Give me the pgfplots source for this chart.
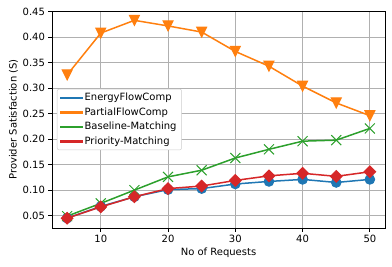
\documentclass[border=0pt]{standalone}
\usepackage{pgfplots}
\pgfplotsset{compat=1.18}
\usepackage{fontspec}
\setmainfont{DejaVu Sans}
\definecolor{tabblue}{RGB}{31,119,180}
\definecolor{taborange}{RGB}{255,127,14}
\definecolor{tabgreen}{RGB}{44,160,44}
\definecolor{tabred}{RGB}{214,39,40}
\definecolor{gridgray}{RGB}{176,176,176}
\definecolor{legedge}{RGB}{204,204,204}
\pgfdeclareplotmark{mtri}{%
  \pgfpathmoveto{\pgfqpoint{0pt}{-\pgfplotmarksize}}%
  \pgfpathlineto{\pgfqpoint{-\pgfplotmarksize}{\pgfplotmarksize}}%
  \pgfpathlineto{\pgfqpoint{\pgfplotmarksize}{\pgfplotmarksize}}%
  \pgfpathclose\pgfusepathqfillstroke}
\pgfdeclareplotmark{mdiam}{%
  \pgfpathmoveto{\pgfqpoint{0pt}{\pgfplotmarksize}}%
  \pgfpathlineto{\pgfqpoint{\pgfplotmarksize}{0pt}}%
  \pgfpathlineto{\pgfqpoint{0pt}{-\pgfplotmarksize}}%
  \pgfpathlineto{\pgfqpoint{-\pgfplotmarksize}{0pt}}%
  \pgfpathclose\pgfusepathqfillstroke}
\pgfdeclareplotmark{mx}{%
  \pgfpathmoveto{\pgfqpoint{-\pgfplotmarksize}{-\pgfplotmarksize}}%
  \pgfpathlineto{\pgfqpoint{\pgfplotmarksize}{\pgfplotmarksize}}%
  \pgfpathmoveto{\pgfqpoint{-\pgfplotmarksize}{\pgfplotmarksize}}%
  \pgfpathlineto{\pgfqpoint{\pgfplotmarksize}{-\pgfplotmarksize}}%
  \pgfusepathqstroke}
\begin{document}
\begin{tikzpicture}
\begin{axis}[
  scale only axis,
  width=333pt, height=217pt,
  xmin=2.75, xmax=52.25,
  ymin=0.0257, ymax=0.4513,
  xtick={10,20,30,40,50},
  ytick={0.05,0.10,0.15,0.20,0.25,0.30,0.35,0.40,0.45},
  yticklabel style={/pgf/number format/.cd, fixed, fixed zerofill, precision=2},
  /pgf/number format/assume math mode=true,
  tick label style={font=\fontsize{10}{12}\selectfont},
  label style={font=\fontsize{10}{12}\selectfont},
  tick align=outside,
  major tick length=3.5pt,
  tick style={black, line width=0.8pt},
  xtick pos=bottom, ytick pos=left,
  axis line style={line width=0.8pt},
  grid=major,
  major grid style={gridgray, line width=0.8pt},
  xlabel={No of Requests},
  ylabel={Provider Satisfaction (S)},
  xlabel style={yshift=2pt},
  ylabel style={yshift=-2pt},
  legend style={at={(0.015,0.5)}, anchor=west, draw=legedge, fill=white, rounded corners=2pt,
    font=\fontsize{10}{12}\selectfont, inner xsep=3pt, inner ysep=2pt, row sep=1.5pt},
  legend cell align=left,
]
\addplot[forget plot, tabblue, line width=1.5pt, mark=*, mark size=4.8pt, mark options={line width=1pt}] coordinates {
(5,0.045) (10,0.068) (15,0.087) (20,0.101) (25,0.103) (30,0.112) (35,0.117) (40,0.121) (45,0.115) (50,0.121)};
\addplot[forget plot, taborange, line width=1.5pt, mark=mtri, mark size=5pt, mark options={line width=1pt}] coordinates {
(5,0.326) (10,0.408) (15,0.433) (20,0.422) (25,0.410) (30,0.372) (35,0.343) (40,0.304) (45,0.271) (50,0.246)};
\addplot[forget plot, tabgreen, line width=1.5pt, mark=mx, mark size=5pt, mark options={line width=1pt}] coordinates {
(5,0.049) (10,0.074) (15,0.100) (20,0.126) (25,0.139) (30,0.163) (35,0.180) (40,0.196) (45,0.198) (50,0.221)};
\addplot[forget plot, tabred, line width=1.5pt, mark=mdiam, mark size=5.8pt, mark options={line width=1pt}] coordinates {
(5,0.045) (10,0.067) (15,0.087) (20,0.103) (25,0.108) (30,0.119) (35,0.128) (40,0.133) (45,0.127) (50,0.136)};
\addlegendimage{legend image code/.code={\fill[tabblue, sharp corners] (0pt,-0.9pt) rectangle (22pt,0.9pt);}}
\addlegendentry{EnergyFlowComp}
\addlegendimage{legend image code/.code={\fill[taborange, sharp corners] (0pt,-0.9pt) rectangle (22pt,0.9pt);}}
\addlegendentry{PartialFlowComp}
\addlegendimage{legend image code/.code={\fill[tabgreen, sharp corners] (0pt,-0.9pt) rectangle (22pt,0.9pt);}}
\addlegendentry{Baseline-Matching}
\addlegendimage{legend image code/.code={\fill[tabred, sharp corners] (0pt,-0.9pt) rectangle (22pt,0.9pt);}}
\addlegendentry{Priority-Matching}
\end{axis}
\pgfresetboundingbox
\useasboundingbox ([xshift=-52pt,yshift=-38pt]current axis.south west) rectangle ([xshift=7pt,yshift=11pt]current axis.north east);
\end{tikzpicture}
\end{document}
